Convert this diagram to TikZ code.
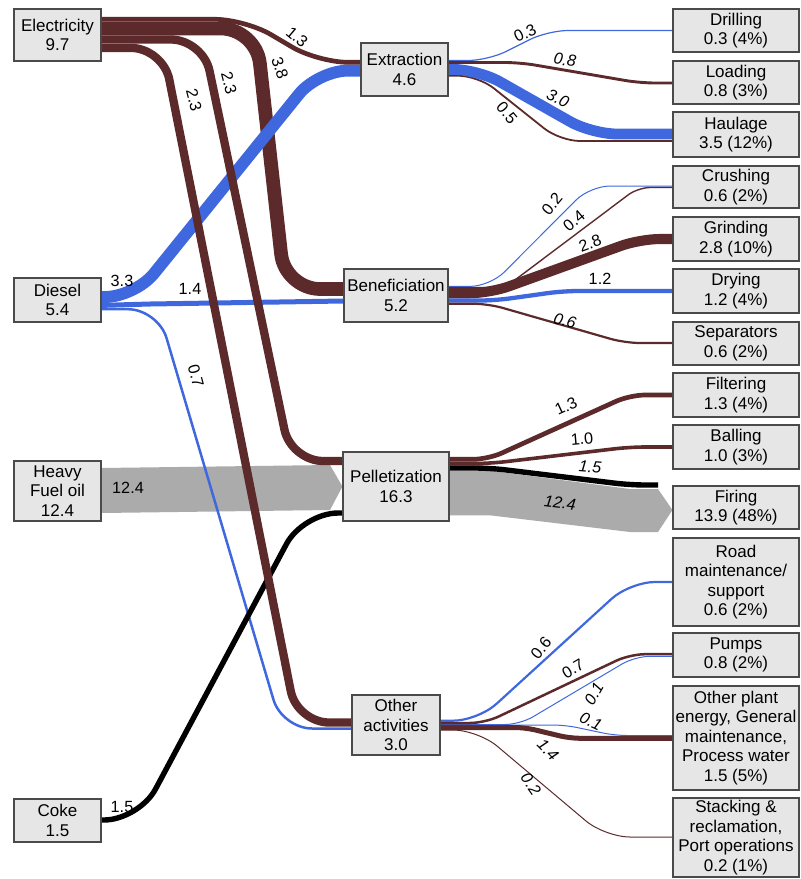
\documentclass[tikz,border=0pt]{standalone}
\usepackage{fontspec}
\setmainfont{Liberation Sans}
\pgfdeclarelayer{flows}
\pgfsetlayers{flows,main}
\definecolor{flowbrown}{HTML}{5C2A2A}
\definecolor{flowblue}{HTML}{3F68DE}
\definecolor{flowgray}{HTML}{ABABAB}
\definecolor{boxfill}{HTML}{E6E6E6}
\definecolor{boxline}{HTML}{4A4A4A}
\tikzset{
  box/.style={draw=boxline, fill=boxfill, line width=1.1pt, inner sep=0pt,
    align=center, font=\fontsize{17}{19.5}\selectfont},
  lbl/.style={inner sep=0pt, font=\fontsize{16.2}{17}\selectfont},
  ilbl/.style={inner sep=0pt, font=\fontsize{16.2}{17}\selectfont\itshape},
  brownflow/.style={draw=flowbrown, line join=round},
  blueflow/.style={draw=flowblue, line join=round},
  blackflow/.style={draw=black, line join=round},
}
\begin{document}
\begin{tikzpicture}[x=1pt,y=-1pt]
\useasboundingbox (0,0) rectangle (801,879);

% ---- energy sources
\node[box, minimum width=87pt, minimum height=52pt] (elec)   at (57.5,35)    {Electricity\\9.7};
\node[box, minimum width=87pt, minimum height=44pt] (diesel) at (57.5,300)   {Diesel\\5.4};
\node[box, minimum width=87pt, minimum height=60pt] (hfo)    at (57.5,491)   {Heavy\\Fuel oil\\12.4};
\node[box, minimum width=87pt, minimum height=43pt] (coke)   at (57.5,820.5) {Coke\\1.5};

% ---- process stages
\node[box, minimum width=87pt,  minimum height=53pt] (extr)   at (404.5,69.5) {Extraction\\4.6};
\node[box, minimum width=104pt, minimum height=53pt] (benef)  at (396,295.5)  {Beneficiation\\5.2};
\node[box, minimum width=106pt, minimum height=69pt] (pellet) at (396,486.5)  {Pelletization\\16.3};
\node[box, minimum width=88pt,  minimum height=60pt] (other)  at (396,725)    {Other\\activities\\3.0};

% ---- end uses
\node[box, minimum width=126pt, minimum height=43pt]  (drill) at (736,30.5)  {Drilling\\0.3 (4\%)};
\node[box, minimum width=126pt, minimum height=43pt]  (load)  at (736,82.5)  {Loading\\0.8 (3\%)};
\node[box, minimum width=126pt, minimum height=45pt]  (haul)  at (736,134.5) {Haulage\\3.5 (12\%)};
\node[box, minimum width=126pt, minimum height=42pt]  (crush) at (736,187)   {Crushing\\0.6 (2\%)};
\node[box, minimum width=126pt, minimum height=44pt]  (grind) at (736,239)   {Grinding\\2.8 (10\%)};
\node[box, minimum width=126pt, minimum height=44pt]  (dry)   at (736,291)   {Drying\\1.2 (4\%)};
\node[box, minimum width=126pt, minimum height=43pt]  (sep)   at (736,343.5) {Separators\\0.6 (2\%)};
\node[box, minimum width=126pt, minimum height=44pt]  (filt)  at (736,395)   {Filtering\\1.3 (4\%)};
\node[box, minimum width=126pt, minimum height=44pt]  (ball)  at (736,447)   {Balling\\1.0 (3\%)};
\node[box, minimum width=126pt, minimum height=43pt]  (fire)  at (736,507.5) {Firing\\13.9 (48\%)};
\node[box, minimum width=126pt, minimum height=88pt]  (road)  at (736,582)   {Road\\maintenance/\\support\\0.6 (2\%)};
\node[box, minimum width=126pt, minimum height=44pt]  (pumps) at (736,655)   {Pumps\\0.8 (2\%)};
\node[box, minimum width=126pt, minimum height=104pt] (plant) at (736,738)   {Other plant\\energy, General\\maintenance,\\Process water\\1.5 (5\%)};
\node[box, minimum width=126pt, minimum height=79pt]  (stack) at (736,837.5) {Stacking \&\\reclamation,\\Port operations\\0.2 (1\%)};

\begin{pgfonlayer}{flows}
% heavy fuel oil into pelletization
\fill[flowgray] (hfo.east |- 0,468) -- (330,465) -- (pellet.west) -- (330,510) -- (hfo.east |- 0,513) -- cycle;
% electricity -> beneficiation
\draw[brownflow, line width=13.7pt, rounded corners=35pt]
  (elec.east |- 0,28.5) -- (256,28.5) -- (285,289) -- (benef.west |- 0,289);
% diesel flows
\draw[blueflow, line width=11.9pt, rounded corners=30pt]
  (diesel.east |- 0,297) -- (135,297) -- (318,70.6) -- (extr.west |- 0,70.6);
\draw[blueflow, line width=5pt]
  (diesel.east |- 0,305.4) -- (150,304) -- (benef.west |- 0,301);
\draw[blueflow, line width=2.5pt, rounded corners=30pt]
  (diesel.east |- 0,309.2) -- (158,309.2) -- (282,728.5) -- (other.west |- 0,728.5);
% coke into pelletization
\draw[blackflow, line width=5.4pt, rounded corners=35pt]
  (coke.east |- 0,820) -- (139,820) -- (303,513) -- (pellet.west |- 0,513);
% electricity -> pelletization and other activities
\draw[brownflow, line width=8.3pt, rounded corners=32pt]
  (elec.east |- 0,39.5) -- (203,39.5) -- (291,461) -- (pellet.west |- 0,461);
\draw[brownflow, line width=8.3pt, rounded corners=32pt]
  (elec.east |- 0,47.9) -- (163,47.9) -- (297,722.5) -- (other.west |- 0,722.5);
% electricity -> extraction
\draw[brownflow, line width=4.7pt, rounded corners=30pt]
  (elec.east |- 0,19.3) -- (245,19.3) -- (318,62.3) -- (extr.west |- 0,62.3);

% extraction outputs
\draw[blueflow, line width=1.2pt, rounded corners=20pt]
  (extr.east |- 0,60.5) -- (488,60.5) -- (548,30.5) -- (drill.west |- 0,30.5);
\draw[brownflow, line width=2.9pt, rounded corners=15pt]
  (extr.east |- 0,62.5) -- (520,62.5) -- (640,83) -- (load.west |- 0,83);
\draw[brownflow, line width=1.8pt, rounded corners=20pt]
  (extr.east |- 0,75.7) -- (478,75.7) -- (560,141) -- (haul.west |- 0,141);
\draw[blueflow, line width=10.8pt, rounded corners=25pt]
  (extr.east |- 0,69.4) -- (478,69.4) -- (592,134) -- (haul.west |- 0,134);

% beneficiation outputs
\draw[blueflow, line width=1pt, rounded corners=20pt]
  (benef.east |- 0,286.4) -- (490,286.4) -- (590,186) -- (crush.west |- 0,186);
\draw[brownflow, line width=1.4pt, rounded corners=12pt]
  (benef.east |- 0,287.5) -- (505,287.5) -- (638,187.5) -- (crush.west |- 0,187.5);
\draw[brownflow, line width=10.1pt, rounded corners=20pt]
  (benef.east |- 0,293.2) -- (490,293.2) -- (640,239) -- (grind.west |- 0,239);
\draw[blueflow, line width=4.3pt, rounded corners=15pt]
  (benef.east |- 0,300.5) -- (495,300.5) -- (563,291) -- (dry.west |- 0,291);
\draw[brownflow, line width=2.2pt, rounded corners=15pt]
  (benef.east |- 0,303.7) -- (488,303.7) -- (625,343) -- (sep.west |- 0,343);

% pelletization outputs
\fill[flowgray] (pellet.east |- 0,470.7) -- (490,470.7) -- (630,489) -- (658,489)
  -- (fire.west |- 0,510) -- (658,532) -- (630,532) -- (490,515.3) -- (pellet.east |- 0,515.3) -- cycle;
\draw[brownflow, line width=4.7pt, rounded corners=15pt]
  (pellet.east |- 0,459.3) -- (488,459.3) -- (630,395) -- (filt.west |- 0,395);
\draw[brownflow, line width=3.6pt, rounded corners=15pt]
  (pellet.east |- 0,463.5) -- (490,463.5) -- (630,447) -- (ball.west |- 0,447);
\coordinate (fire-in) at (658,485);
\draw[blackflow, line width=5.4pt, rounded corners=15pt]
  (pellet.east |- 0,468) -- (490,468) -- (630,485) -- (fire-in);

% other activities outputs
\draw[brownflow, line width=1pt, rounded corners=25pt]
  (other.east |- 0,730) -- (478,730) -- (605,837) -- (stack.west |- 0,837);
\draw[blueflow, line width=1pt, rounded corners=12pt]
  (other.east |- 0,725) -- (565,725) -- (615,735.5) -- (plant.west |- 0,735.5);
\draw[brownflow, line width=5pt, rounded corners=10pt]
  (other.east |- 0,727.5) -- (525,727.5) -- (570,738.3) -- (plant.west |- 0,738.3);
\draw[blueflow, line width=1pt, rounded corners=15pt]
  (other.east |- 0,724.5) -- (520,724.5) -- (635,656.3) -- (pumps.west |- 0,656.3);
\draw[brownflow, line width=2.5pt, rounded corners=15pt]
  (other.east |- 0,723) -- (485,723) -- (630,654.2) -- (pumps.west |- 0,654.2);
\draw[blueflow, line width=2.2pt, rounded corners=25pt]
  (other.east |- 0,720.7) -- (478,720.7) -- (630,582) -- (road.west |- 0,582);
\end{pgfonlayer}

% ---- flow values
\node[lbl, rotate=-40] (v-e1) at (297,37)  {1.3};
\node[lbl, rotate=-72] (v-e2) at (280,68)  {3.8};
\node[lbl, rotate=-76] (v-e3) at (229,83)  {2.3};
\node[lbl, rotate=-76] (v-e4) at (194,100) {2.3};
\node[lbl] (v-d1) at (122,281) {3.3};
\node[lbl] (v-d2) at (190,289) {1.4};
\node[lbl, rotate=-75] (v-d3) at (196,376) {0.7};
\node[lbl] (v-h) at (128,488) {12.4};
\node[lbl] (v-c) at (122,807) {1.5};

\node[lbl, rotate=25]  (v-x1) at (525,33)  {0.3};
\node[ilbl, rotate=-8] (v-x2) at (565,60)  {0.8};
\node[ilbl, rotate=-25] (v-x3) at (558,98) {3.0};
\node[lbl, rotate=-50] (v-x4) at (507,113) {0.5};

\node[lbl, rotate=50]  (v-b1) at (552,204) {0.2};
\node[lbl, rotate=40]  (v-b2) at (574,221) {0.4};
\node[lbl, rotate=20]  (v-b3) at (590,243) {2.8};
\node[lbl]             (v-b4) at (600,279) {1.2};
\node[ilbl, rotate=-15] (v-b5) at (565,321) {0.6};

\node[lbl, rotate=25]  (v-p1) at (566,406) {1.3};
\node[lbl, rotate=5]   (v-p2) at (582,439) {1.0};
\node[ilbl, rotate=-5] (v-p3) at (590,467) {1.5};
\node[ilbl, rotate=-7] (v-p4) at (560,503) {12.4};

\node[lbl, rotate=50]   (v-o1) at (541,648) {0.6};
\node[lbl, rotate=30]   (v-o2) at (573,669) {0.7};
\node[ilbl, rotate=60]  (v-o3) at (594,694) {0.1};
\node[ilbl, rotate=-25] (v-o4) at (591,721) {0.1};
\node[ilbl, rotate=-45] (v-o5) at (548,750) {1.4};
\node[ilbl, rotate=-55] (v-o6) at (531,784) {0.2};
\end{tikzpicture}
\end{document}
